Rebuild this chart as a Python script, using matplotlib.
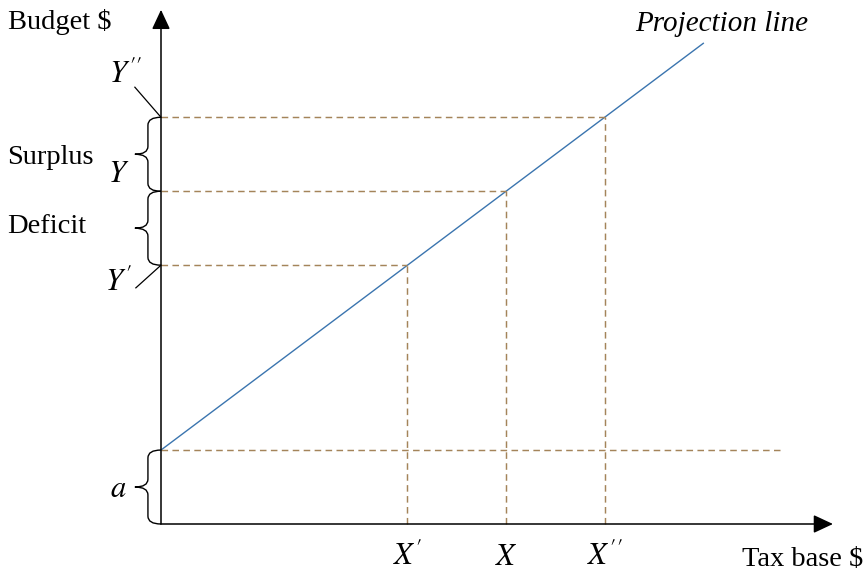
import numpy as np
import matplotlib.pyplot as plt
from matplotlib.path import Path
from matplotlib.patches import PathPatch

plt.rcParams['font.family'] = ['Liberation Serif', 'DejaVu Serif']
plt.rcParams['mathtext.fontset'] = 'stix'

# projection line (tax base -> budget)
line_x = [0, 5, 7, 9, 11]
line_y = [1.5, 5.25, 6.75, 8.25, 9.75]

# marked points on the line
point_x = [5, 7, 9]
point_y = [5.25, 6.75, 8.25]
x_labels = [r"$X^{\prime}$", r"$X$", r"$X^{\prime\prime}$"]
intercept = 1.5

dash_col = '#a4845a'
line_col = '#3b75af'
dash = (0, (4.5, 3))

fig = plt.figure(figsize=(8.68, 5.76), dpi=100)
ax = fig.add_axes([0, 0, 1, 1])
ax.set_xlim(-161 / 49.3, (868 - 161) / 49.3)
ax.set_ylim(-52 / 49.3, (576 - 52) / 49.3)
ax.axis('off')

# axes with arrows
arrow = dict(arrowstyle='-|>,head_length=0.6,head_width=0.28', lw=1.1,
             color='black', shrinkA=0, shrinkB=0, mutation_scale=20)
ax.annotate('', xy=(13.63, 0), xytext=(0, 0), arrowprops=arrow)
ax.annotate('', xy=(0, 10.43), xytext=(0, 0), arrowprops=arrow)

# projection line
ax.plot(line_x, line_y, color=line_col, lw=1.0)

# guide lines
for px, py in zip(point_x, point_y):
    ax.plot([0, px], [py, py], color=dash_col, lw=1.05, ls=dash)
    ax.plot([px, px], [0, py], color=dash_col, lw=1.05, ls=dash)
ax.plot([0, 12.56], [intercept, intercept], color=dash_col, lw=1.05, ls=dash)


def brace(y0, y1, x0=0.0, w=0.53, r=0.16):
    xm = x0 - w / 2
    ym = (y0 + y1) / 2
    verts = [(x0, y1), (xm, y1), (xm, y1 - r),
             (xm, ym + r), (xm, ym), (x0 - w, ym),
             (xm, ym), (xm, ym - r),
             (xm, y0 + r), (xm, y0), (x0, y0)]
    codes = [Path.MOVETO, Path.CURVE3, Path.CURVE3,
             Path.LINETO, Path.CURVE3, Path.CURVE3,
             Path.CURVE3, Path.CURVE3,
             Path.LINETO, Path.CURVE3, Path.CURVE3]
    ax.add_patch(PathPatch(Path(verts, codes), fill=False, lw=1.0, color='black'))


brace(point_y[1], point_y[2])
brace(point_y[0], point_y[1])
brace(0, intercept)

# leader lines for Y'' and Y'
ax.plot([-0.53, 0], [8.86, point_y[2]], color='black', lw=0.9)
ax.plot([-0.51, 0], [4.79, point_y[0]], color='black', lw=0.9)

fs = 20.5
ms = 22
ax.text(-3.10, 10.18, "Budget $", fontsize=fs, va='center', ha='left')
ax.text(14.24, -0.73, "Tax base $", fontsize=fs, va='center', ha='right')
ax.text(11.38, 10.14, "Projection line", fontsize=21, style='italic',
        va='center', ha='center')
ax.text(-3.12, 7.44, "Surplus", fontsize=fs, va='center', ha='left')
ax.text(-3.12, 6.04, "Deficit", fontsize=fs, va='center', ha='left')

ax.text(-0.71, 9.09, r"$Y^{\prime\prime}$", fontsize=ms, va='center', ha='center')
ax.text(-0.85, 7.08, r"$Y$", fontsize=ms, va='center', ha='center')
ax.text(-0.87, 4.89, r"$Y^{\prime}$", fontsize=ms, va='center', ha='center')
ax.text(-0.87, 0.69, r"$a$", fontsize=ms, va='center', ha='center')

for px, lab in zip(point_x, x_labels):
    ax.text(px, -0.67, lab, fontsize=ms, va='center', ha='center')

fig.savefig('out.png', dpi=100)
